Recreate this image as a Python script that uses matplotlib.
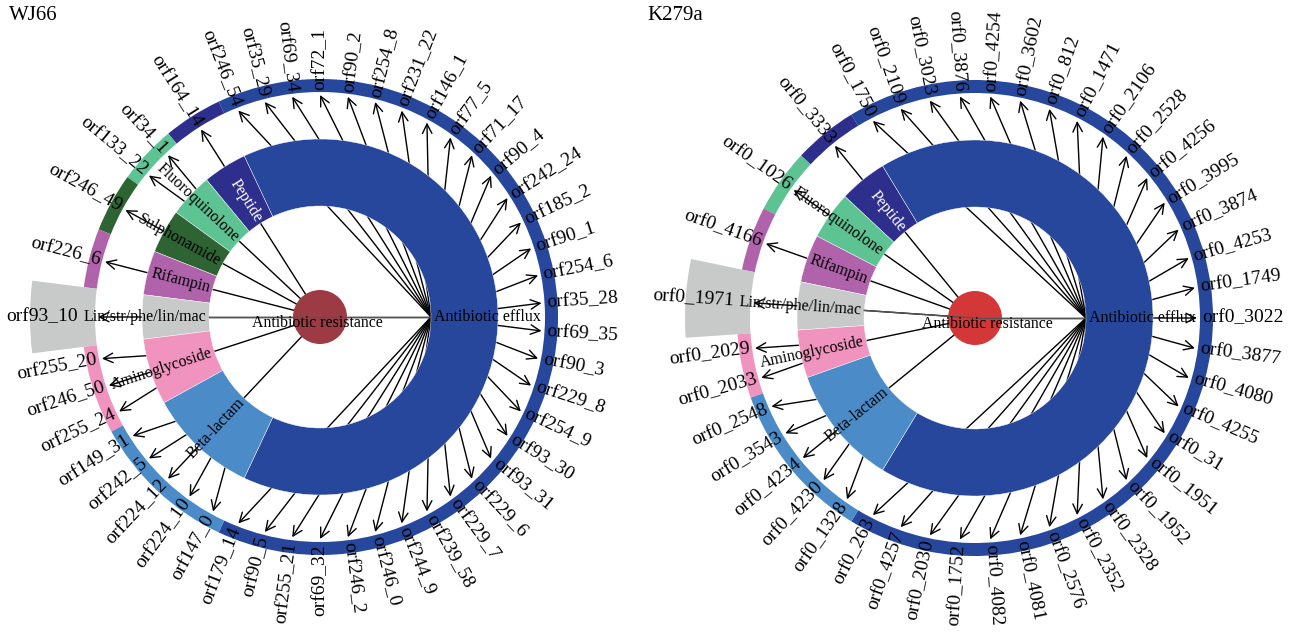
import numpy as np
import matplotlib
matplotlib.use('Agg')
import matplotlib.pyplot as plt
from matplotlib.patches import Wedge, Circle, FancyArrowPatch

plt.rcParams['font.family'] = ['Liberation Serif', 'DejaVu Serif']

# ---------------- data ----------------
root_label = 'Antibiotic resistance'

wj66_title = 'WJ66'
wj66_categories = ['Antibiotic efflux', 'Peptide', 'Fluoroquinolone', 'Sulphonamide',
                   'Rifampin', 'Lin/str/phe/lin/mac', 'Aminoglycoside', 'Beta-lactam']
wj66_efflux = ['orf179_14', 'orf90_5', 'orf255_21', 'orf69_32', 'orf246_2', 'orf246_0',
               'orf244_9', 'orf239_58', 'orf229_7', 'orf229_6', 'orf93_31', 'orf93_30',
               'orf254_9', 'orf229_8', 'orf90_3', 'orf69_35', 'orf35_28', 'orf254_6',
               'orf90_1', 'orf185_2', 'orf242_24', 'orf90_4', 'orf71_17', 'orf77_5',
               'orf146_1', 'orf231_22', 'orf254_8', 'orf90_2', 'orf72_1', 'orf69_34',
               'orf35_29', 'orf246_54']
wj66_peptide = ['orf164_14']
wj66_fluoroquinolone = ['orf34_1', 'orf133_22']
wj66_sulphonamide = ['orf246_49']
wj66_rifampin = ['orf226_6']
wj66_lin = ['orf93_10']
wj66_aminoglycoside = ['orf255_20', 'orf246_50', 'orf255_24']
wj66_betalactam = ['orf149_31', 'orf242_5', 'orf224_12', 'orf224_10', 'orf147_0']

k279a_title = 'K279a'
k279a_categories = ['Antibiotic efflux', 'Peptide', 'Fluoroquinolone', 'Rifampin',
                    'Lin/str/phe/lin/mac', 'Aminoglycoside', 'Beta-lactam']
k279a_efflux = ['orf0_263', 'orf0_4257', 'orf0_2030', 'orf0_1752', 'orf0_4082', 'orf0_4081',
                'orf0_2576', 'orf0_2352', 'orf0_2328', 'orf0_1952', 'orf0_1951', 'orf0_31',
                'orf0_4255', 'orf0_4080', 'orf0_3877', 'orf0_3022', 'orf0_1749', 'orf0_4253',
                'orf0_3874', 'orf0_3995', 'orf0_4256', 'orf0_2528', 'orf0_2106', 'orf0_1471',
                'orf0_812', 'orf0_3602', 'orf0_4254', 'orf0_3876', 'orf0_3023', 'orf0_2109',
                'orf0_1750']
k279a_peptide = ['orf0_3333']
k279a_fluoroquinolone = ['orf0_1026']
k279a_rifampin = ['orf0_4166']
k279a_lin = ['orf0_1971']
k279a_aminoglycoside = ['orf0_2029', 'orf0_2033']
k279a_betalactam = ['orf0_2548', 'orf0_3543', 'orf0_4234', 'orf0_4230', 'orf0_1328']

# ---------------- styles ----------------
cat_colors = {
    'Antibiotic efflux': '#26479c',
    'Peptide': '#2e2f8c',
    'Fluoroquinolone': '#5ec393',
    'Sulphonamide': '#2e6333',
    'Rifampin': '#b063ab',
    'Lin/str/phe/lin/mac': '#c8c9c9',
    'Aminoglycoside': '#f093be',
    'Beta-lactam': '#4a8bc8',
}
cat_text_colors = {'Peptide': 'white'}
wide_outer = {'Lin/str/phe/lin/mac': 290}

W, H = 1295, 634
fig = plt.figure(figsize=(W / 100, H / 100), dpi=100)
ax = fig.add_axes([0, 0, 1, 1])
ax.set_xlim(0, W)
ax.set_ylim(0, H)
ax.axis('off')

R_NODE = 111
R_IN_OUT = 178
R_RING_IN, R_RING_OUT = 225, 238
R_TIP = 222
R_LABEL = 227


def pol(cx, cy, r, a):
    t = np.deg2rad(a)
    return cx + r * np.cos(t), cy + r * np.sin(t)


def is_left(a):
    a = a % 360
    return 90 + 1e-6 < a < 270 + 1e-6


def draw_panel(cx, cy, title, title_xy, cats, leaf_lists, root_color, root_dx):
    units = [max(len(l), 2) for l in leaf_lists]
    unit = 360.0 / sum(units)
    start = -units[0] * unit / 2.0
    lin_lines = []
    for cat, leaves, u in zip(cats, leaf_lists, units):
        a0, a1 = start, start + u * unit
        mid = (a0 + a1) / 2.0
        start = a1
        col = cat_colors[cat]
        # inner ring
        ax.add_patch(Wedge((cx, cy), R_IN_OUT, a0, a1, width=R_IN_OUT - R_NODE,
                           facecolor=col, edgecolor='white', lw=0.3, zorder=2))
        # outer ring
        ro = wide_outer.get(cat, R_RING_OUT)
        ax.add_patch(Wedge((cx, cy), ro, a0, a1, width=ro - R_RING_IN,
                           facecolor=col, edgecolor='none', zorder=2))
        nx, ny = pol(cx, cy, R_NODE, mid)
        ax.plot([cx, nx], [cy, ny], color='black', lw=1.0, zorder=1)
        if cat in ('Antibiotic efflux', 'Lin/str/phe/lin/mac'):
            lin_lines.append((nx, ny))
        # category label
        lx, ly = pol(cx, cy, R_NODE + 3, mid)
        left = is_left(mid)
        ax.text(lx, ly, cat, rotation=mid - 180 if left else mid,
                ha='right' if left else 'left', va='center', rotation_mode='anchor',
                fontsize=11.5, color=cat_text_colors.get(cat, 'black'), zorder=5)
        n = len(leaves)
        step = u * unit / n
        for i, leaf in enumerate(leaves):
            a = a0 + (i + 0.5) * step
            tx, ty = pol(cx, cy, R_TIP, a)
            ax.add_patch(FancyArrowPatch((nx, ny), (tx, ty), arrowstyle='->',
                                         mutation_scale=17, lw=1.0, color='black',
                                         shrinkA=0, shrinkB=0, zorder=1))
            rl = R_LABEL + (15 if cat in wide_outer else 0)
            px, py = pol(cx, cy, rl, a)
            left = is_left(a)
            ax.text(px, py, leaf, rotation=a - 180 if left else a,
                    ha='right' if left else 'left', va='center', rotation_mode='anchor',
                    fontsize=14, color='black', zorder=5)
    ax.add_patch(Circle((cx, cy), 27, facecolor=root_color, edgecolor='none', zorder=3))
    for (nx, ny) in lin_lines:
        ax.plot([cx, nx], [cy, ny], color='#555555', lw=1.0, zorder=3.5)
    ax.text(cx + root_dx, cy - 10, root_label, ha='center', va='baseline',
            fontsize=11.4, color='black', zorder=5)
    ax.text(title_xy[0], title_xy[1], title, ha='left', va='baseline', fontsize=15,
            color='black')


draw_panel(320, H - 317, wj66_title, (9, H - 20), wj66_categories,
           [wj66_efflux, wj66_peptide, wj66_fluoroquinolone, wj66_sulphonamide,
            wj66_rifampin, wj66_lin, wj66_aminoglycoside, wj66_betalactam],
           '#9c3b43', -3)
draw_panel(975, H - 318, k279a_title, (647, H - 20), k279a_categories,
           [k279a_efflux, k279a_peptide, k279a_fluoroquinolone, k279a_rifampin,
            k279a_lin, k279a_aminoglycoside, k279a_betalactam],
           '#d43737', 12)

fig.savefig('out.png', dpi=100, facecolor='white')
